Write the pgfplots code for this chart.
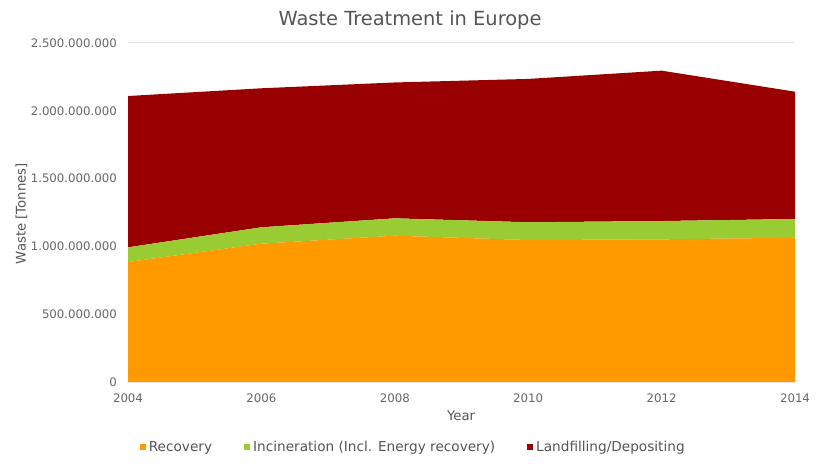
\documentclass[border=0pt]{standalone}
\usepackage{pgfplots}
\pgfplotsset{compat=1.18}
\usepackage{pgfplotstable}
\usepackage{fontspec}
\setmainfont{DejaVu Sans}
\definecolor{recov}{HTML}{FF9900}
\definecolor{incin}{HTML}{99CC33}
\definecolor{landf}{HTML}{990000}
\definecolor{txt}{HTML}{555555}
\definecolor{tickc}{HTML}{666666}
\definecolor{gridc}{HTML}{E3E3E3}
\pgfplotsset{legend image code/.code={\fill[#1] (0bp,-3bp) rectangle (6bp,3bp);}}
\pgfplotstableread{
year recov incin landf
2004 885000000 108000000 1116000000
2006 1020000000 121000000 1025000000
2008 1079000000 128000000 1002000000
2010 1047000000 131000000 1057000000
2012 1052000000 135000000 1109000000
2014 1064000000 138000000 939000000
}\wastedata
\begin{document}
\begin{tikzpicture}
\path[use as bounding box] (0bp,0bp) rectangle (820bp,464bp);
\begin{axis}[
  at={(128bp,82bp)}, anchor=south west,
  scale only axis, width=667bp, height=339bp,
  xmin=2004, xmax=2014, ymin=0, ymax=2500000000,
  stack plots=y,
  axis line style={draw=none},
  major tick length=0pt,
  scaled y ticks=false, scaled x ticks=false,
  xtick={2004,2006,2008,2010,2012,2014},
  xticklabels={2004,2006,2008,2010,2012,2014},
  ytick={0,500000000,1000000000,1500000000,2000000000,2500000000},
  yticklabels={0,500.000.000,1.000.000.000,1.500.000.000,2.000.000.000,2.500.000.000},
  ymajorgrids, grid style={gridc, line width=1bp},
  tick label style={font=\fontsize{11.8}{14}\selectfont, text=tickc},
  yticklabel style={inner sep=0pt, anchor=east, xshift=-11bp},
  xticklabel style={inner sep=0pt, anchor=base, yshift=-20bp},
  title={Waste Treatment in Europe},
  title style={at={(axis description cs:0.4228,1.0501)}, anchor=center, font=\fontsize{19.5}{23}\selectfont, text=txt},
  xlabel={Year},
  xlabel style={at={(axis description cs:0.4993,-0.1003)}, anchor=center, font=\fontsize{13.3}{16}\selectfont, text=txt},
  ylabel={Waste [Tonnes]},
  ylabel style={at={(axis description cs:-0.1597,0.497)}, anchor=center, font=\fontsize{13.3}{16}\selectfont, text=txt},
  legend columns=3,
  legend style={draw=none, fill=none, at={(axis description cs:0.0130,-0.192)}, anchor=west,
    font=\fontsize{13.7}{16}\selectfont, text=txt,
    nodes={inner xsep=3bp, inner ysep=1bp},
    /tikz/every even column/.append style={column sep=29bp}},
]
\addplot[fill=recov, draw=none] table[x=year, y=recov] {\wastedata} \closedcycle;
\addlegendentry{Recovery}
\addplot[fill=incin, draw=none] table[x=year, y=incin] {\wastedata} \closedcycle;
\addlegendentry{Incineration (Incl. Energy recovery)}
\addplot[fill=landf, draw=none] table[x=year, y=landf] {\wastedata} \closedcycle;
\addlegendentry{Landfilling/Depositing}
\end{axis}
\end{tikzpicture}
\end{document}
